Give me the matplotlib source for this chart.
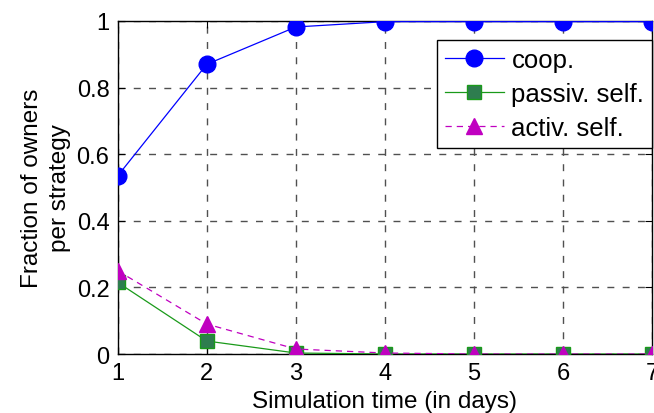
import numpy as np
import matplotlib as mpl
mpl.use('Agg')
import matplotlib.pyplot as plt

plt.rcParams['font.family'] = ['Liberation Sans', 'DejaVu Sans']

days = [1, 2, 3, 4, 5, 6, 7]
coop = [0.535, 0.87, 0.982, 0.998, 0.998, 0.998, 0.998]
passiv_self = [0.215, 0.039, 0.003, 0.0, 0.0, 0.0, 0.0]
activ_self = [0.25, 0.09, 0.015, 0.003, 0.0, 0.0, 0.0]

yticks = [0, 0.2, 0.4, 0.6, 0.8, 1]
yticklabels = ['0', '0.2', '0.4', '0.6', '0.8', '1']

fig = plt.figure(figsize=(6.54, 4.14), dpi=100)
ax = fig.add_axes([0.180, 0.1425, 0.817, 0.8044])

ax.plot(days, coop, '-o', color='#0000ff', lw=0.9, markersize=12,
        markerfacecolor='#0000ff', markeredgecolor='#0000ff', label='coop.', zorder=4)
ax.plot(days, passiv_self, '-s', color='#1a9a1a', lw=0.9, markersize=10,
        markerfacecolor='#2e7d4f', markeredgecolor='#1a9a1a', label='passiv. self.', zorder=3)
ax.plot(days, activ_self, '--^', color='#c000c0', lw=0.9, markersize=12,
        markerfacecolor='#c000c0', markeredgecolor='#c000c0', label='activ. self.',
        dashes=(5, 4), zorder=5)

ax.set_xlim(1, 7)
ax.set_ylim(0, 1)
ax.set_xticks(days)
ax.set_yticks(yticks)
ax.set_yticklabels(yticklabels)
ax.tick_params(direction='in', top=True, right=True, labelsize=17, length=5, pad=6)
ax.grid(True, linestyle=(0, (5, 6)), color='#505050', lw=1.0)
for s in ax.spines.values():
    s.set_linewidth(1.0)

ax.set_xlabel('Simulation time (in days)', fontsize=17.5, labelpad=4)
ax.set_ylabel('Fraction of owners\nper strategy', fontsize=17.5, labelpad=4, linespacing=1.35)

leg = ax.legend(loc='upper right', bbox_to_anchor=(1.0, 0.943), fontsize=18.5,
                frameon=True, fancybox=False, framealpha=1, edgecolor='black',
                borderpad=0.3, handlelength=2.3, handletextpad=0.3, labelspacing=0.4,
                borderaxespad=0.0)
leg.get_frame().set_linewidth(1.0)

fig.savefig('out.png', dpi=100)
